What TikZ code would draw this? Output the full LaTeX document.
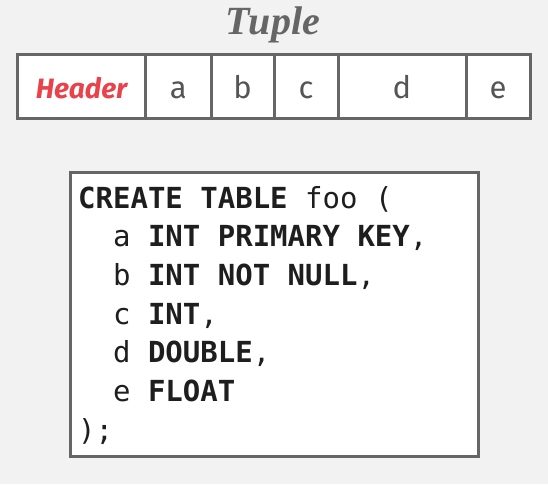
\documentclass[tikz,border=0pt]{standalone}
\usepackage{fontspec}
\setsansfont{Fira Sans}
\setmonofont{DejaVu Sans Mono}
\newfontfamily\titlefont{Liberation Serif}
\usetikzlibrary{positioning}
\definecolor{bgcol}{HTML}{F2F2F2}
\definecolor{linecol}{HTML}{666666}
\definecolor{hdrcol}{HTML}{E8424B}
\definecolor{txtcol}{HTML}{555555}
\definecolor{sqlcol}{HTML}{1E1E1E}

\begin{document}
\begin{tikzpicture}[x=1pt, y=1pt,
cell/.style={rectangle, draw=linecol, line width=3pt, fill=white, inner sep=0pt, outer sep=0pt,
  minimum height=64pt},
letter/.style={inner sep=0pt, anchor=base, text=txtcol, font=\sffamily\fontsize{31}{34}\selectfont},
header/.style={inner sep=0pt, anchor=base, text=hdrcol, font=\sffamily\bfseries\itshape\fontsize{28}{30}\selectfont},
title/.style={draw=none, fill=none, inner sep=0pt, text=linecol, font=\titlefont\bfseries\itshape\fontsize{40}{44}\selectfont},
sqlbox/.style={rectangle, draw=linecol, line width=3pt, fill=white, inner sep=0pt, outer sep=0pt},
sqlline/.style={draw=none, fill=none, inner sep=0pt, anchor=base west, text=sqlcol, font=\ttfamily\fontsize{29}{38}\selectfont}]

%% local variables
\def \rowy {-86.5}
\def \basey {-98.5}
\def \lx {78}
\def \ly {-208}
\def \lh {38.7}

%% page
\fill[bgcol] (0,0) rectangle (548,-484);
\useasboundingbox (0,0) rectangle (548,-484);

%% title
\node[title, anchor=base] (tuple) at (273,-35) {Tuple};

%% tuple cells
\foreach \n/\x/\w in {hdr/81.5/128, a/178.25/65.5, b/242.5/63, c/306/64, d/402/128, e/498/64}
      \node[cell, minimum width=\w pt] (C-\n) at (\x,\rowy) {};

\node[header] (hdr) at (C-hdr |- 0,\basey) {Header};
\foreach \n in {a,b,c,d,e}
      \node[letter] (T-\n) at (C-\n |- 0,\basey) {\n};

%% table definition
\node[sqlbox, minimum width=408pt, minimum height=284pt, anchor=north west] (sql) at (70,-172) {};

\foreach \i/\txt in {1/{\textbf{CREATE TABLE} foo (},
                     2/{\hphantom{xx}a \textbf{INT PRIMARY KEY},},
                     3/{\hphantom{xx}b \textbf{INT NOT NULL},},
                     4/{\hphantom{xx}c \textbf{INT},},
                     5/{\hphantom{xx}d \textbf{DOUBLE},},
                     6/{\hphantom{xx}e \textbf{FLOAT}},
                     7/{);}}
      \node[sqlline] (L-\i) at (\lx,{\ly - (\i - 1) * \lh}) {\txt};

\end{tikzpicture}
\end{document}
